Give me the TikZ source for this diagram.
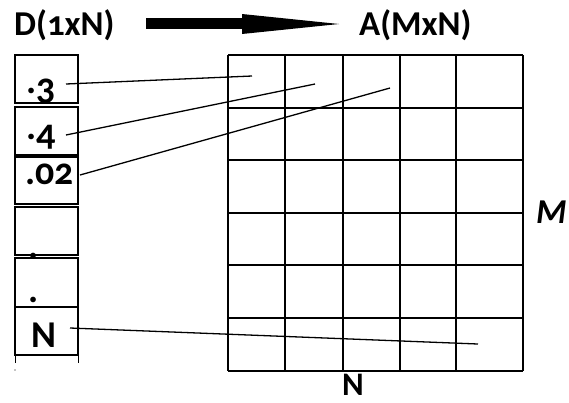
\documentclass[tikz,border=0pt]{standalone}
\usepackage{fontspec}
\setmainfont{Carlito}[Numbers=OldStyle]
\begin{document}
\begin{tikzpicture}[x=1bp,y=-1bp,
  vbox/.style={draw, line width=2bp},
  gridline/.style={line width=2.2bp},
  link/.style={line width=1.3bp},
  title/.style={font=\fontsize{35}{35}\selectfont\bfseries, inner sep=0pt},
  boxtxt/.style={font=\fontsize{38}{38}\selectfont\bfseries, inner sep=0pt},
  axis/.style={inner sep=0pt}]
\useasboundingbox (0,0) rectangle (569,402);
% titles
\node[title, anchor=base west] (td) at (14,35) {D(1xN)};
\node[title, anchor=base west] (ta) at (359,35) {A(MxN)};
% big arrow
\coordinate (as) at (146,23.5);
\coordinate (ae) at (339,24);
\fill (146,18) rectangle (242,29);
\fill (242,14) -- (ae) -- (242,34) -- cycle;
% vector boxes
\draw[vbox] (15,55) rectangle (78,103);
\draw[vbox] (15,107) rectangle (78,155);
\draw[vbox] (15,157) rectangle (78,204);
\draw[vbox] (15,207) rectangle (78,255);
\draw[vbox] (15,258) rectangle (78,307);
\draw[vbox] (15,307) rectangle (78,355);
\draw[line width=1bp] (15,355) -- (15,363) (78,355) -- (78,363);
\fill (15,370) circle (0.6);
% texts in boxes
\node[boxtxt, anchor=base west] (v1) at (26,93) {.\raisebox{-6bp}{3}};
\node[boxtxt, anchor=base west] (v2) at (26,139) {.\raisebox{-6bp}{4}};
\node[boxtxt, anchor=base west] (v3) at (25,184) {.02};
\node[boxtxt, anchor=base west] (v4) at (28,258) {.};
\node[boxtxt, anchor=base west] (v5) at (28,302) {.};
\node[boxtxt, anchor=base west] (v6) at (31,347) {N};
% grid
\foreach \x in {228,285,343,400,456,523}
  \draw[gridline] (\x,55) -- (\x,371);
\foreach \y in {55,108,160,213,265,318,371}
  \draw[gridline] (228,\y) -- (523,\y);
% axis labels
\node[axis, anchor=base west, font=\fontsize{35}{35}\selectfont\bfseries\itshape] (lm) at (536,223) {M};
\node[axis, anchor=base west, font=\fontsize{33}{33}\selectfont\bfseries] (ln) at (342,395) {N};
% connectors
\coordinate (s1) at (66,84);  \coordinate (e1) at (252,76);
\coordinate (s2) at (66,135); \coordinate (e2) at (315,84);
\coordinate (s3) at (80,175); \coordinate (e3) at (390,88);
\coordinate (s6) at (70,328); \coordinate (e6) at (478,344);
\draw[link] (s1) -- (e1);
\draw[link] (s2) -- (e2);
\draw[link] (s3) -- (e3);
\draw[link] (s6) -- (e6);
\end{tikzpicture}
\end{document}
